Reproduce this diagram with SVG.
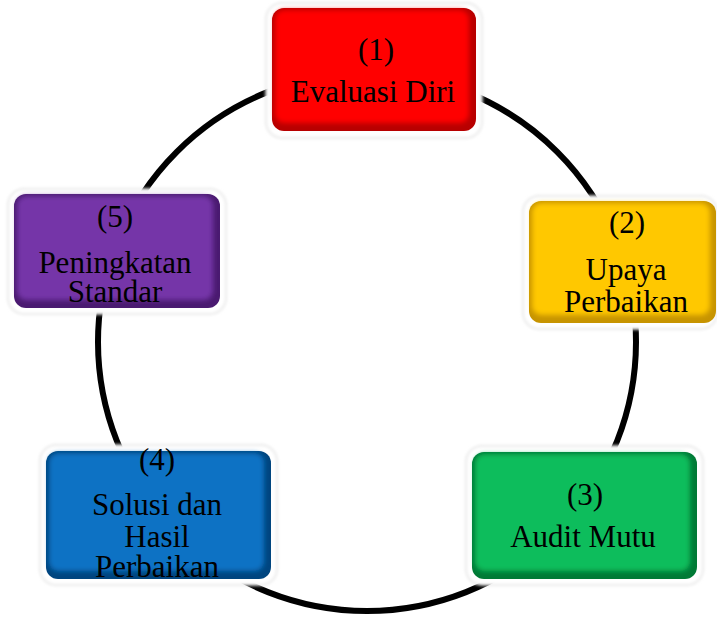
<svg xmlns="http://www.w3.org/2000/svg" width="717" height="620" viewBox="0 0 717 620">
<defs>
<filter id="soft" x="-10%" y="-10%" width="120%" height="120%">
<feGaussianBlur stdDeviation="2.5"/>
</filter>
<filter id="halo" x="-10%" y="-10%" width="120%" height="120%">
<feGaussianBlur stdDeviation="1.5"/>
</filter>
</defs>
<style>
.ring{fill:none;stroke:#000;stroke-width:6}
.halo{fill:#fff;stroke:#e2e2e2;stroke-width:1.5;filter:url(#halo)}
.lbl{font-family:"Liberation Serif","Times New Roman",serif;font-size:31px;fill:#000;text-anchor:middle}
</style>
<rect width="717" height="620" fill="#fff"/>
<g id="connectors">
<circle class="ring" cx="367" cy="342" r="269"/>
</g>
<g id="node1">
<rect class="halo" x="266" y="3" width="216" height="135" rx="16"/>
<rect x="272" y="8" width="204" height="123" rx="12" fill="#b80000"/>
<rect x="275" y="10" width="194" height="113" rx="9" fill="#ff0000" filter="url(#soft)"/>
<text class="lbl" x="376" y="60">(1)</text>
<text class="lbl" x="373" y="102">Evaluasi Diri</text>
</g>
<g id="node2">
<rect class="halo" x="523" y="196" width="194" height="133" rx="16"/>
<rect x="529" y="201" width="187" height="122" rx="12" fill="#c79400"/>
<rect x="532" y="203" width="178" height="112" rx="9" fill="#ffc800" filter="url(#soft)"/>
<text class="lbl" x="627" y="233">(2)</text>
<text class="lbl" x="626" y="280">Upaya</text>
<text class="lbl" x="626" y="312">Perbaikan</text>
</g>
<g id="node3">
<rect class="halo" x="466" y="446" width="237" height="139" rx="16"/>
<rect x="472" y="452" width="225" height="127" rx="12" fill="#007a36"/>
<rect x="475" y="454" width="215" height="117" rx="9" fill="#0dbd5c" filter="url(#soft)"/>
<text class="lbl" x="585" y="505">(3)</text>
<text class="lbl" x="583" y="547">Audit Mutu</text>
</g>
<g id="node4">
<rect class="halo" x="40" y="445" width="237" height="140" rx="16"/>
<rect x="46" y="451" width="225" height="128" rx="12" fill="#00457f"/>
<rect x="49" y="453" width="215" height="118" rx="9" fill="#0a72c4" filter="url(#soft)"/>
<text class="lbl" x="157" y="470">(4)</text>
<text class="lbl" x="157" y="515">Solusi dan</text>
<text class="lbl" x="157" y="547">Hasil</text>
<text class="lbl" x="157" y="577">Perbaikan</text>
</g>
<g id="node5">
<rect class="halo" x="8" y="189" width="218" height="125" rx="16"/>
<rect x="14" y="194" width="206" height="114" rx="12" fill="#4a1a70"/>
<rect x="17" y="196" width="196" height="104" rx="9" fill="#7434a8" filter="url(#soft)"/>
<text class="lbl" x="115" y="227">(5)</text>
<text class="lbl" x="115" y="273">Peningkatan</text>
<text class="lbl" x="115" y="302">Standar</text>
</g>
</svg>
